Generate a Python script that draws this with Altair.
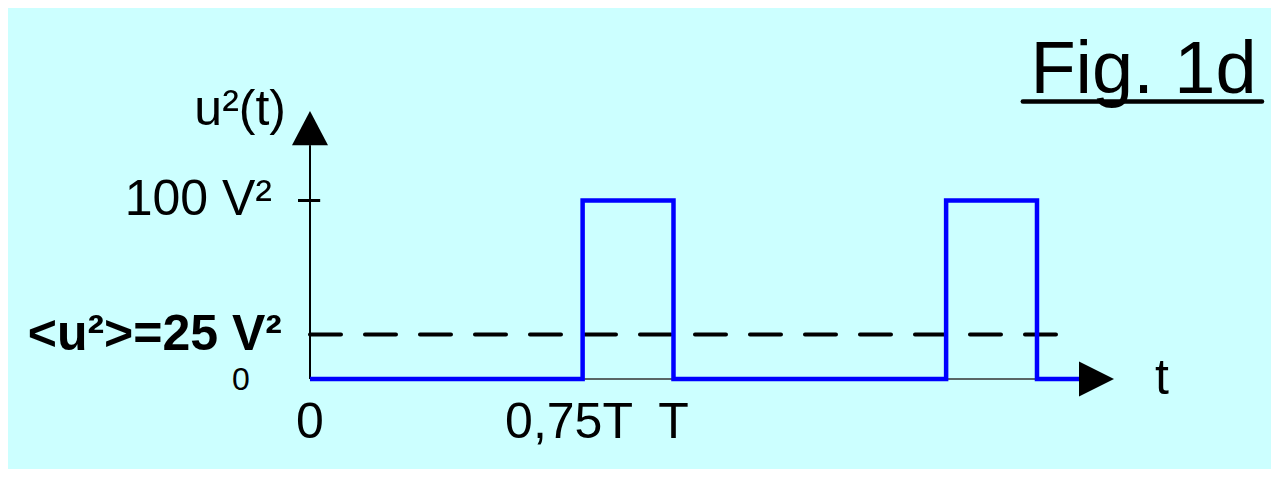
import altair as alt
import pandas as pd

# ---- data (t in units of T, u² in V²) ----
wave_t = [0, 0.75, 0.75, 1, 1, 1.75, 1.75, 2, 2, 2.127]
wave_u = [0, 0, 100, 100, 0, 0, 100, 100, 0, 0]
mean_value = 25
peak_value = 100
mean_line_end = 2.071
x_axis_end = 2.116
y_axis_end = 131.0

# annotation labels
lab_text = ["u²(t)", "100 V²", "<u²>=25 V²", "0", "0", "0,75T", "T", "t", "Fig. 1d"]
lab_t = [-0.066, -0.1045, -0.077, -0.19, 0.0, 0.7125, 1.0, 2.344, 2.293]
lab_u = [142.3, 91.9, 16.2, -6.2, -33.0, -33.0, -33.0, -8.4, 160.2]
lab_style = ["r", "r", "rb", "cs", "c", "c", "c", "c", "big"]

W, H = 1263, 461
XD = [-0.8308, -0.8308 + W / 363.5]
YD = [-(H - 371) / 1.785, 371 / 1.785]
FONT = "Liberation Sans, Arial, sans-serif"

xs = alt.Scale(domain=XD, nice=False, zero=False)
ys = alt.Scale(domain=YD, nice=False, zero=False)


def X(f="t"):
    return alt.X(f"{f}:Q", scale=xs, axis=None)


def Y(f="u"):
    return alt.Y(f"{f}:Q", scale=ys, axis=None)


wave = pd.DataFrame({"t": wave_t, "u": wave_u, "i": range(len(wave_t))})
labels = pd.DataFrame({"t": lab_t, "u": lab_u, "text": lab_text, "s": lab_style})

# axes lines
yaxis = alt.Chart(pd.DataFrame({"t": [0], "u": [0], "u2": [y_axis_end]})).mark_rule(
    color="black", strokeWidth=2
).encode(x=X(), y=Y(), y2="u2:Q")

xaxis = alt.Chart(pd.DataFrame({"t": [0], "t2": [x_axis_end], "u": [0]})).mark_rule(
    color="#333333", strokeWidth=1.5
).encode(x=X(), x2="t2:Q", y=Y())

tick = alt.Chart(pd.DataFrame({"t": [-0.033], "t2": [0.028], "u": [peak_value]})).mark_rule(
    color="black", strokeWidth=3
).encode(x=X(), x2="t2:Q", y=Y())

mean_line = alt.Chart(pd.DataFrame({"t": [0], "t2": [mean_line_end], "u": [mean_value]})).mark_rule(
    color="black", strokeWidth=4, strokeDash=[31, 24], strokeCap="round"
).encode(x=X(), x2="t2:Q", y=Y())

line = alt.Chart(wave).mark_line(color="#0000FF", strokeWidth=4.5, strokeJoin="miter").encode(
    x=X(), y=Y(), order="i:Q"
)

arrow_up = alt.Chart(pd.DataFrame({"t": [0], "u": [141.0]})).mark_point(
    shape="M-1,1L1,1L0,-0.9Z", size=1296, filled=True, color="black", opacity=1, strokeWidth=0
).encode(x=X(), y=Y())

arrow_right = alt.Chart(pd.DataFrame({"t": [2.1637], "u": [0]})).mark_point(
    shape="M-1,-1L-1,1L1,0Z", size=1225, filled=True, color="black", opacity=1, strokeWidth=0
).encode(x=X(), y=Y())

underline = alt.Chart(pd.DataFrame({"t": [1.961], "t2": [2.619], "u": [155.5]})).mark_rule(
    color="black", strokeWidth=4.5, strokeCap="round"
).encode(x=X(), x2="t2:Q", y=Y())


def text_layer(style, **kw):
    return alt.Chart(labels).transform_filter(alt.datum.s == style).mark_text(
        font=FONT, color="black", baseline="alphabetic", **kw
    ).encode(x=X(), y=Y(), text="text:N")


t_r = text_layer("r", fontSize=50, align="right")
t_rb = text_layer("rb", fontSize=50, align="right", fontWeight="bold")
t_cs = text_layer("cs", fontSize=32, align="center")
t_c = text_layer("c", fontSize=50, align="center")
t_big = text_layer("big", fontSize=74, align="center")

chart = alt.layer(
    xaxis, yaxis, tick, mean_line, line, arrow_up, arrow_right, underline,
    t_r, t_rb, t_cs, t_c, t_big
).properties(
    width=W, height=H, background="#CCFFFF", padding=0,
    autosize=alt.AutoSizeParams(type="none")
).configure_view(strokeWidth=0)

chart.save("out.html", embed_options={"renderer": "svg", "actions": False})
